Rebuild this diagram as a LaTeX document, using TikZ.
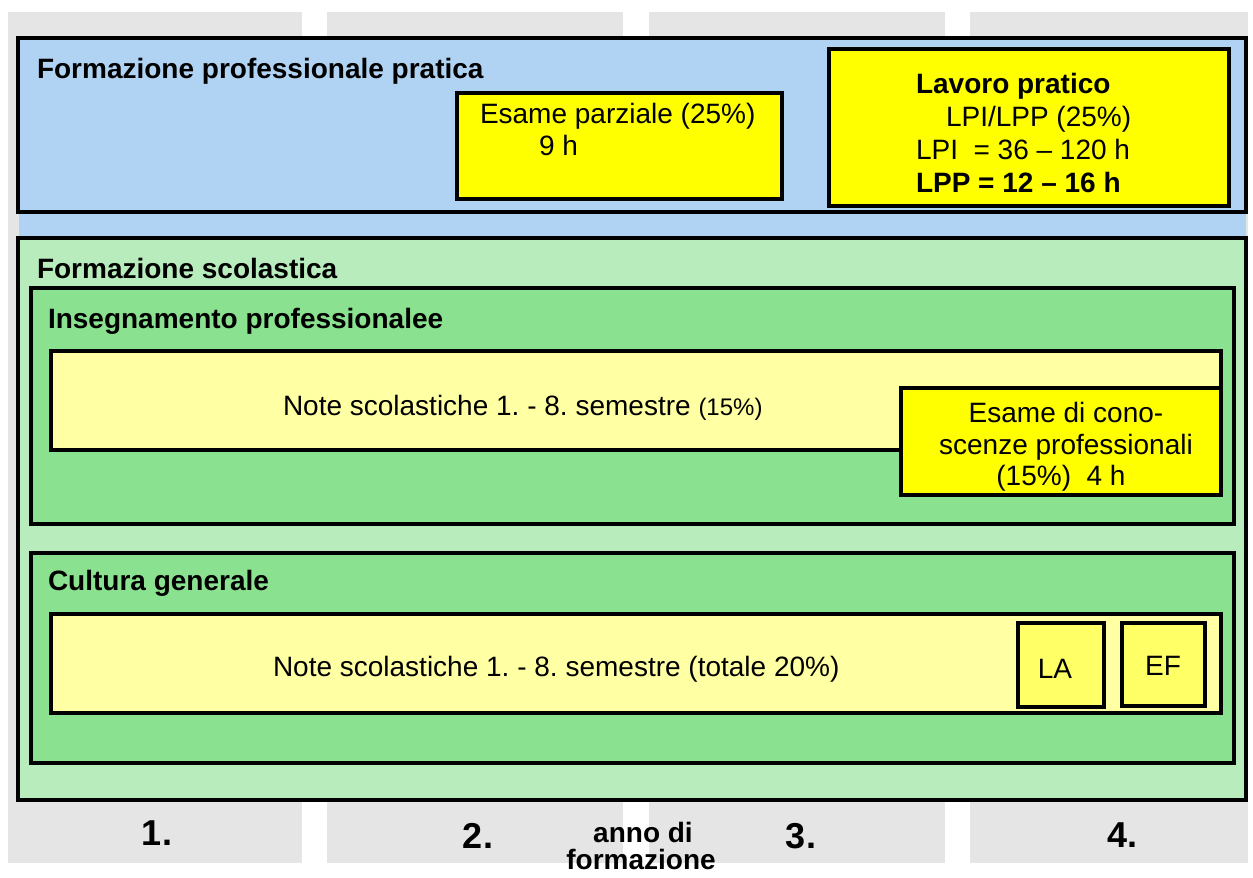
\documentclass[tikz,border=0pt]{standalone}
\usepackage{fontspec}
\setmainfont{Liberation Sans}
\frenchspacing
\definecolor{colgray}{HTML}{E5E5E5}
\definecolor{pblue}{HTML}{B0D3F4}
\definecolor{lgreen}{HTML}{B8ECBD}
\definecolor{mgreen}{HTML}{8AE18F}
\definecolor{lyellow}{HTML}{FFFFA3}
\definecolor{myellow}{HTML}{FFFF66}
\definecolor{syellow}{HTML}{FFFF00}
\begin{document}
\begin{tikzpicture}[x=1pt,y=-1pt,
  every node/.style={inner sep=0pt,outer sep=0pt,font=\fontsize{28}{33}\selectfont},
  frame/.style={draw=black,line width=3.2pt},
  txt/.style={anchor=base west},
  ctxt/.style={anchor=base},
  ttl/.style={anchor=base west,font=\fontsize{28}{33}\selectfont\bfseries},
  yr/.style={anchor=base,font=\fontsize{36}{40}\selectfont\bfseries},
  ann/.style={anchor=base,font=\fontsize{28}{33}\selectfont\bfseries}]
\useasboundingbox (0,0) rectangle (1253,878);
% year columns
\fill[colgray] (8,12) rectangle (302,863);
\fill[colgray] (327,12) rectangle (623,863);
\fill[colgray] (649,12) rectangle (945,863);
\fill[colgray] (970,12) rectangle (1248,863);
% practical training
\fill[pblue] (19,38) rectangle (1246,237);
\draw[frame] (18,38) rectangle (1246,212);
\node[ttl] (tprat) at (37,78) {Formazione professionale pratica};
\draw[frame,fill=syellow] (457,93) rectangle (782,199);
\node[txt] (epar1) at (480,123) {Esame parziale (25\%)};
\node[txt] (epar2) at (539,155) {9 h};
\draw[frame,fill=syellow] (829,49) rectangle (1229,206);
\node[txt,font=\fontsize{28}{33}\selectfont\bfseries] (lav1) at (916,93) {Lavoro pratico};
\node[txt] (lav2) at (946,126) {LPI/LPP (25\%)};
\node[txt] (lav3) at (916,159) {LPI\ \ = 36 – 120 h};
\node[txt,font=\fontsize{28}{33}\selectfont\bfseries] (lav4) at (916,192) {LPP = 12 – 16 h};
% school training
\draw[frame,fill=lgreen] (18,238) rectangle (1246,800);
\node[ttl] (tscol) at (37,278) {Formazione scolastica};
\draw[frame,fill=mgreen] (31,288) rectangle (1234,524);
\node[ttl] (tins) at (48,328) {Insegnamento professionalee};
\draw[frame,fill=lyellow] (51,351) rectangle (1221,450);
\node[txt] (note1) at (283,415) {Note scolastiche 1. - 8. semestre {\fontsize{24}{28}\selectfont(15\%)}};
\draw[frame,fill=syellow] (901,388) rectangle (1221,495);
\node[ctxt] (econ1) at (1066,422) {Esame di cono-};
\node[ctxt] (econ2) at (1066,454) {scenze professionali};
\node[ctxt] (econ3) at (1061,485) {(15\%)\ \ 4 h};
\draw[frame,fill=mgreen] (31,553) rectangle (1234,763);
\node[ttl] (tcult) at (48,590) {Cultura generale};
\draw[frame,fill=lyellow] (51,614) rectangle (1221,713);
\node[txt] (note2) at (273,676) {Note scolastiche 1. - 8. semestre (totale 20\%)};
\draw[frame,fill=myellow] (1018,623) rectangle (1104,707);
\node[ctxt] (la) at (1055,678) {LA};
\draw[frame,fill=myellow] (1122,623) rectangle (1205,706);
\node[ctxt] (ef) at (1163,675) {EF};
% years
\node[yr] (y1) at (157,845) {1.};
\node[yr] (y2) at (478,848) {2.};
\node[ann] (anno) at (643,842) {anno di};
\node[ann] (form) at (641,869) {formazione};
\node[yr] (y3) at (801,848) {3.};
\node[yr] (y4) at (1122,847) {4.};
\end{tikzpicture}
\end{document}
